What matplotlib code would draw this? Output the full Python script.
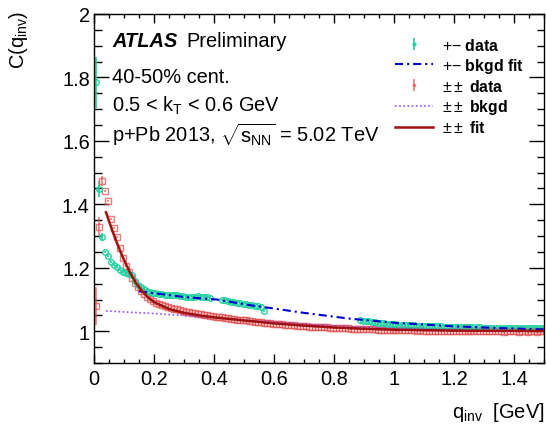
import matplotlib
matplotlib.use("Agg")
import matplotlib.pyplot as plt
import numpy as np
from matplotlib.ticker import MultipleLocator
from matplotlib.legend_handler import HandlerErrorbar

plt.rcParams['font.family'] = ['Liberation Sans', 'DejaVu Sans']
plt.rcParams['mathtext.fontset'] = 'custom'
plt.rcParams['mathtext.rm'] = 'Liberation Sans'
plt.rcParams['mathtext.it'] = 'Liberation Sans:italic'
plt.rcParams['mathtext.bf'] = 'Liberation Sans:bold'

# bin centres, 0.01 GeV bins
q_bins = np.round(np.arange(150) * 0.01 + 0.005, 3)

# +- data (nan = bins not shown)
c_os = [1.785, 1.448, 1.297, 1.249, 1.237, 1.218, 1.208, 1.202, 1.192, 1.187,
        1.184, 1.181, 1.176, 1.158, 1.145, 1.139, 1.133, 1.127, 1.124, 1.122,
        1.120, 1.118, 1.116, 1.114, 1.114, 1.114, 1.113, 1.113, 1.111, 1.110,
        1.108, 1.107, 1.107, 1.109, 1.110, 1.108, 1.107, 1.107, 1.104, np.nan,
        np.nan, np.nan, 1.098, 1.097, 1.095, 1.092, 1.091, 1.090, 1.088, 1.086,
        1.085, 1.084, 1.082, 1.080, 1.079, 1.077, 1.065] + [np.nan] * 31 + [
        1.035, 1.033, 1.032, 1.031, 1.029, 1.028, 1.027, 1.026, 1.025, 1.024,
        1.023, 1.022, 1.022, 1.021, 1.021, 1.020, 1.020, 1.019, 1.019, 1.018,
        1.018, 1.018, 1.017, 1.017, 1.016, 1.016, 1.016, 1.016, 1.015, 1.015,
        1.015, 1.014, 1.014, 1.014, 1.013, 1.013, 1.013, 1.013, 1.012, 1.012,
        1.012, 1.011, 1.011, 1.011, 1.011, 1.010, 1.010, 1.010, 1.010, 1.010,
        1.009, 1.010, 1.009, 1.009, 1.009, 1.010, 1.009, 1.009, 1.009, 1.009,
        1.009, 1.009]
e_os = [0.08, 0.025, 0.012] + [0.003] * 147

# ++/-- data
c_ss = [1.080, 1.330, 1.473, 1.442, 1.410, 1.355, 1.325, 1.298, 1.264, 1.232,
        1.207, 1.186, 1.168, 1.152, 1.139, 1.127, 1.117, 1.108, 1.101, 1.095,
        1.090, 1.086, 1.082, 1.079, 1.076, 1.074, 1.071, 1.069, 1.066, 1.064,
        1.062, 1.061, 1.059, 1.057, 1.055, 1.053, 1.052, 1.050, 1.049, 1.048,
        1.046, 1.045, 1.044, 1.043, 1.041, 1.040, 1.039, 1.037, 1.036, 1.035,
        1.034, 1.033, 1.031, 1.030, 1.029, 1.028, 1.027, 1.026, 1.025, 1.024,
        1.023, 1.022, 1.022, 1.021, 1.020, 1.019, 1.019, 1.018, 1.017, 1.016,
        1.016, 1.015, 1.015, 1.014, 1.013, 1.013, 1.012, 1.012, 1.011, 1.011,
        1.010, 1.010, 1.009, 1.009, 1.009, 1.008, 1.008, 1.008, 1.007, 1.007,
        1.007, 1.006, 1.006, 1.006, 1.005, 1.005, 1.005, 1.005, 1.004, 1.004,
        1.004, 1.004, 1.003, 1.004, 1.003, 1.003, 1.003, 1.002, 1.003, 1.002,
        1.002, 1.002, 1.001, 1.002, 1.002, 1.001, 1.001, 1.002, 1.001, 1.001,
        1.001, 1.000, 1.001, 1.001, 1.000, 1.001, 1.000, 1.001, 1.000, 1.000,
        1.001, 1.000, 1.000, 1.001, 1.000, 1.000, 0.999, 1.000, 1.000, 1.000,
        1.000, 0.999, 1.000, 1.000, 0.999, 1.000, 1.000, 0.999, 1.000, 1.000]
e_ss = [0.06, 0.03, 0.015] + [0.003] * 147

# fit curves
q_fit_os = [0.15, 0.2, 0.3, 0.41, 0.52, 0.59, 0.7, 0.85, 1.0, 1.19, 1.35, 1.5]
c_fit_os = [1.126, 1.120, 1.108, 1.100, 1.082, 1.073, 1.058, 1.040, 1.027, 1.016, 1.010, 1.006]

q_bkg_ss = [0.04, 0.2, 0.32, 0.45, 0.6, 0.8, 1.0, 1.2, 1.5]
c_bkg_ss = [1.064, 1.056, 1.048, 1.039, 1.029, 1.017, 1.009, 1.004, 1.001]

q_fit_ss = [0.04, 0.06, 0.08, 0.10, 0.12, 0.14, 0.16, 0.18, 0.20, 0.25, 0.30, 0.35,
            0.40, 0.50, 0.60, 0.70, 0.80, 0.90, 1.0, 1.2, 1.5]
c_fit_ss = [1.375, 1.320, 1.270, 1.225, 1.185, 1.152, 1.127, 1.107, 1.092, 1.070, 1.058, 1.050,
            1.044, 1.034, 1.025, 1.018, 1.012, 1.008, 1.005, 1.002, 1.001]

teal = '#1fcf9f'
red = '#e05050'

fig = plt.figure(figsize=(5.46, 4.27), dpi=100)
ax = fig.add_axes([94 / 546, 1 - 364 / 427, 450 / 546, 349 / 427])

h_ss_fit, = ax.plot(q_fit_ss, c_fit_ss, color='#a01010', lw=1.8, zorder=4)
h_ss_bkg, = ax.plot(q_bkg_ss, c_bkg_ss, color='#9b4dff', lw=1.2, ls=(0, (1, 1.5)), zorder=3)
h_os_fit, = ax.plot(q_fit_os, c_fit_os, color='#0000cc', lw=1.5,
                    ls=(0, (3.9, 1.9, 1, 1.9)), zorder=3)
h_ss = ax.errorbar(q_bins, c_ss, yerr=e_ss, fmt='s', ms=4, mfc='none', mec=red, mew=1,
                   ecolor=red, elinewidth=1.2, alpha=0.75, zorder=2)
h_os = ax.errorbar(q_bins, c_os, yerr=e_os, fmt='o', ms=4, mfc='none', mec=teal, mew=1,
                   ecolor=teal, elinewidth=1.2, zorder=2)

ax.set_xlim(0, 1.5)
ax.set_ylim(0.9, 2.0)
ax.xaxis.set_minor_locator(MultipleLocator(0.05))
ax.yaxis.set_minor_locator(MultipleLocator(0.05))
ax.set_xticks([0, 0.2, 0.4, 0.6, 0.8, 1.0, 1.2, 1.4])
ax.set_xticklabels(['0', '0.2', '0.4', '0.6', '0.8', '1', '1.2', '1.4'])
ax.set_yticks([1.0, 1.2, 1.4, 1.6, 1.8, 2.0])
ax.set_yticklabels(['1', '1.2', '1.4', '1.6', '1.8', '2'])
ax.tick_params(which='both', direction='in', top=True, right=True, width=1,
               labelsize=14.4, colors='black')
ax.tick_params(axis='x', which='major', length=6.5, pad=4.5)
ax.tick_params(axis='x', which='minor', length=3.2)
ax.tick_params(axis='y', which='major', length=10.8, pad=3)
ax.tick_params(axis='y', which='minor', length=5.4)
for s in ax.spines.values():
    s.set_linewidth(1)

# labels
fig.text(18 / 546, 1 - 11 / 427, r'C(q$_{\mathregular{inv}}$)', rotation=90,
         ha='center', va='top', fontsize=14.4)
fig.text(545 / 546, 1 - 418 / 427, r'q$_{\mathregular{inv}}$  [GeV]',
         ha='right', va='baseline', fontsize=14.4)

tx = ax.transAxes
ax.text(0.04, 0.908, 'ATLAS', transform=tx, fontsize=14.4, fontweight='bold',
        style='italic', va='baseline')
ax.text(0.205, 0.908, 'Preliminary', transform=tx, fontsize=14.4, va='baseline')
ax.text(0.04, 0.805, '40-50% cent.', transform=tx, fontsize=14.4, va='baseline')
ax.text(0.04, 0.722, r'0.5 < k$_{\mathregular{T}}$ < 0.6 GeV', transform=tx,
        fontsize=14.4, va='baseline')
ax.text(0.04, 0.636, r'p+Pb 2013, $\sqrt{\mathregular{s}_{\mathregular{NN}}}$ = 5.02 TeV',
        transform=tx, fontsize=14.4, va='baseline')

leg = ax.legend([h_os, h_os_fit, h_ss, h_ss_bkg, h_ss_fit],
                [r'+$-$ $\mathbf{data}$', r'+$-$ $\mathbf{bkgd\ fit}$',
                 r'$\pm\pm$ $\mathbf{data}$', r'$\pm\pm$ $\mathbf{bkgd}$',
                 r'$\pm\pm$ $\mathbf{fit}$'],
                loc='upper left', bbox_to_anchor=(0.669, 0.935), frameon=False,
                fontsize=11.4, handlelength=2.4, handletextpad=0.57,
                labelspacing=0.2, borderpad=0, borderaxespad=0, markerscale=0.5,
                handler_map={type(h_os): HandlerErrorbar(xerr_size=0.38, yerr_size=0.38)})

fig.savefig('out.png', dpi=100)
